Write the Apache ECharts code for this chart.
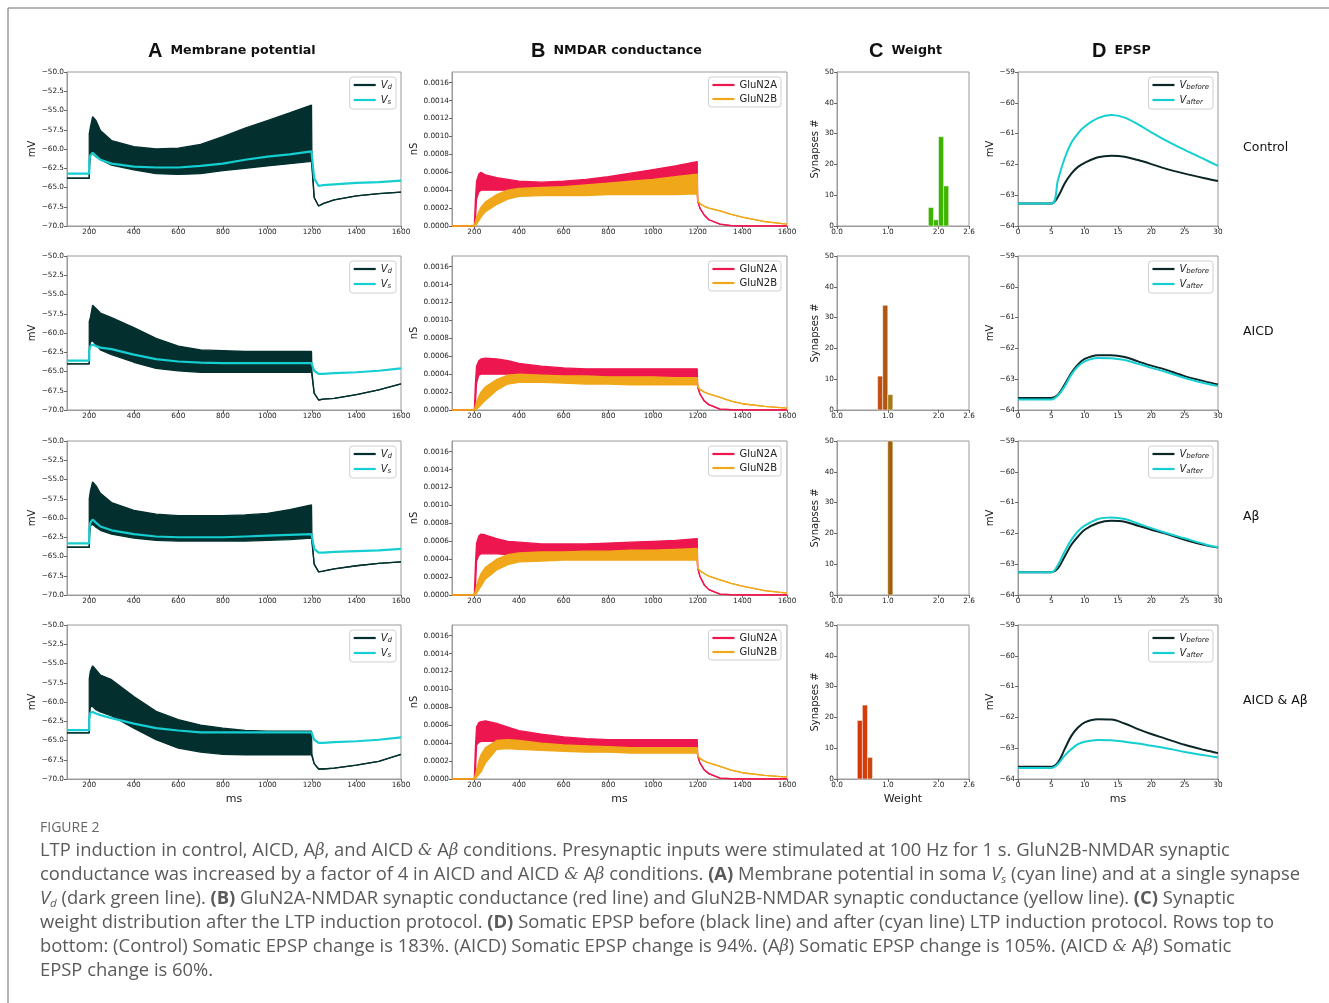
<!DOCTYPE html>
<html>
<head>
<meta charset="UTF-8">
<title>Figure 2</title>
<script src="https://cdn.jsdelivr.net/npm/echarts@6/dist/echarts.min.js"></script>
<style>
  html, body { margin: 0; background: #fff; }
  #main { width: 1329px; height: 1003px; }
</style>
</head>
<body>
<div id="main"></div>
<script>
// ---------- data ----------
var rowNames = ['Control', 'AICD', 'A\u03b2', 'AICD & A\u03b2'];

// A: membrane potential (ms, mV). Vd oscillates at 100 Hz -> stored as upper / lower envelope
var tA = [100, 200, 200, 205, 215, 230, 250, 300, 400, 500, 600, 700, 800, 900, 1000, 1100, 1198, 1200, 1210, 1230, 1250, 1300, 1400, 1500, 1600];
var vdUpper = [
  [-63.8, -63.8, -58.0, -57.2, -55.8, -56.3, -57.6, -58.9, -59.7, -60.0, -59.9, -59.4, -58.4, -57.3, -56.3, -55.3, -54.3, -61.6, -66.3, -67.4, -67.1, -66.6, -66.1, -65.8, -65.6],
  [-64.0, -64.0, -58.5, -58.0, -56.4, -56.8, -57.4, -58.0, -59.3, -60.7, -61.7, -62.2, -62.3, -62.4, -62.4, -62.4, -62.4, -65.0, -67.8, -68.7, -68.6, -68.5, -68.0, -67.4, -66.6],
  [-63.8, -63.8, -57.5, -56.5, -55.3, -55.8, -56.8, -58.0, -59.0, -59.5, -59.7, -59.7, -59.7, -59.6, -59.4, -58.9, -58.3, -62.6, -66.0, -67.0, -66.9, -66.6, -66.2, -65.9, -65.7],
  [-64.0, -64.0, -57.0, -56.0, -55.3, -55.8, -56.5, -57.1, -59.3, -61.2, -62.3, -63.0, -63.4, -63.7, -63.8, -63.8, -63.8, -66.8, -68.0, -68.7, -68.7, -68.6, -68.2, -67.7, -66.8]
];
var vdLower = [
  [-63.8, -63.8, -63.0, -60.8, -60.6, -61.0, -61.4, -62.1, -62.7, -63.2, -63.3, -63.2, -62.8, -62.5, -62.2, -61.9, -61.6, -61.6, -66.3, -67.4, -67.1, -66.6, -66.1, -65.8, -65.6],
  [-64.0, -64.0, -62.5, -61.2, -61.0, -61.5, -62.2, -62.8, -63.8, -64.6, -64.9, -65.1, -65.1, -65.1, -65.1, -65.1, -65.1, -65.0, -67.8, -68.7, -68.6, -68.5, -68.0, -67.4, -66.6],
  [-63.8, -63.8, -63.0, -61.0, -60.8, -61.2, -61.6, -62.1, -62.6, -62.9, -63.0, -63.0, -63.0, -63.0, -62.9, -62.8, -62.6, -62.6, -66.0, -67.0, -66.9, -66.6, -66.2, -65.9, -65.7],
  [-64.0, -64.0, -62.5, -60.6, -60.6, -61.0, -61.3, -61.8, -63.4, -64.9, -66.0, -66.5, -66.8, -66.85, -66.85, -66.85, -66.85, -66.8, -68.0, -68.7, -68.7, -68.6, -68.2, -67.7, -66.8]
];
var vSoma = [
  [-63.2, -63.2, -61.5, -60.8, -60.5, -60.9, -61.4, -61.9, -62.3, -62.4, -62.4, -62.2, -61.9, -61.4, -61.0, -60.7, -60.3, -60.4, -63.8, -64.8, -64.7, -64.6, -64.4, -64.3, -64.1],
  [-63.6, -63.6, -62.2, -61.7, -61.5, -61.7, -61.9, -62.1, -62.8, -63.4, -63.7, -63.85, -63.9, -63.9, -63.9, -63.9, -63.9, -64.0, -64.9, -65.3, -65.3, -65.2, -65.1, -64.9, -64.6],
  [-63.3, -63.3, -61.5, -60.6, -60.2, -60.6, -61.1, -61.6, -62.1, -62.4, -62.5, -62.5, -62.5, -62.4, -62.3, -62.2, -62.1, -62.2, -64.0, -64.5, -64.5, -64.4, -64.3, -64.2, -64.0],
  [-63.65, -63.65, -62.0, -61.4, -61.3, -61.5, -61.7, -62.1, -62.8, -63.4, -63.7, -63.95, -63.95, -63.95, -63.95, -63.95, -63.95, -64.0, -64.9, -65.3, -65.3, -65.2, -65.1, -64.9, -64.6]
];

// B: NMDAR conductance (ms, nS), upper / lower envelopes
var tB = [100, 200, 205, 210, 220, 230, 250, 300, 350, 400, 500, 600, 700, 800, 900, 1000, 1100, 1198, 1200, 1210, 1230, 1250, 1300, 1350, 1400, 1500, 1600];
var n2aUpper = [
  [0, 0, 0.00030, 0.00050, 0.00058, 0.00060, 0.00057, 0.00054, 0.00052, 0.00050, 0.00049, 0.00050, 0.00052, 0.00055, 0.00059, 0.00063, 0.00067, 0.00072, 0.00028, 0.00020, 0.00012, 0.00007, 0.00002, 0.000005, 0, 0, 0],
  [0, 0, 0.00030, 0.00049, 0.00055, 0.00057, 0.00058, 0.00057, 0.00055, 0.00052, 0.00049, 0.00047, 0.00046, 0.00046, 0.00046, 0.00046, 0.00046, 0.00046, 0.00026, 0.00018, 0.00010, 0.00006, 0.00001, 0.000003, 0, 0, 0],
  [0, 0, 0.00035, 0.00058, 0.00066, 0.00068, 0.00067, 0.00063, 0.00060, 0.00059, 0.00057, 0.00057, 0.00057, 0.00058, 0.00059, 0.00060, 0.00061, 0.00063, 0.00030, 0.00021, 0.00011, 0.00006, 0.00001, 0.000003, 0, 0, 0],
  [0, 0, 0.00036, 0.00058, 0.00063, 0.00064, 0.00065, 0.00062, 0.00058, 0.00054, 0.00050, 0.00047, 0.00045, 0.00044, 0.00044, 0.00044, 0.00044, 0.00044, 0.00026, 0.00018, 0.00010, 0.00006, 0.00001, 0.000003, 0, 0, 0]
];
var n2aLower = [
  [0, 0, 0.00008, 0.00030, 0.00038, 0.00040, 0.00040, 0.00040, 0.00040, 0.00040, 0.00040, 0.00040, 0.00040, 0.00040, 0.00040, 0.00040, 0.00040, 0.00040, 0.00028, 0.00020, 0.00012, 0.00007, 0.00002, 0.000005, 0, 0, 0],
  [0, 0, 0.00008, 0.00030, 0.00039, 0.00040, 0.00040, 0.00040, 0.00040, 0.00038, 0.00036, 0.00035, 0.00034, 0.00033, 0.00033, 0.00033, 0.00033, 0.00033, 0.00026, 0.00018, 0.00010, 0.00006, 0.00001, 0.000003, 0, 0, 0],
  [0, 0, 0.00008, 0.00038, 0.00044, 0.00046, 0.00046, 0.00046, 0.00045, 0.00044, 0.00043, 0.00042, 0.00042, 0.00042, 0.00042, 0.00042, 0.00042, 0.00042, 0.00030, 0.00021, 0.00011, 0.00006, 0.00001, 0.000003, 0, 0, 0],
  [0, 0, 0.00008, 0.00038, 0.00041, 0.00042, 0.00042, 0.00042, 0.00040, 0.00038, 0.00036, 0.00034, 0.00033, 0.00032, 0.00032, 0.00032, 0.00032, 0.00032, 0.00026, 0.00018, 0.00010, 0.00006, 0.00001, 0.000003, 0, 0, 0]
];
var n2bUpper = [
  [0, 0, 0.00005, 0.00010, 0.00016, 0.00021, 0.00027, 0.00035, 0.00040, 0.00042, 0.00043, 0.00044, 0.00046, 0.00048, 0.00050, 0.00052, 0.00055, 0.00058, 0.00028, 0.00025, 0.00022, 0.00020, 0.00017, 0.00013, 0.00010, 0.00005, 0.00002],
  [0, 0, 0.00005, 0.00009, 0.00015, 0.00020, 0.00026, 0.00034, 0.00039, 0.00040, 0.00039, 0.00038, 0.00038, 0.00037, 0.00037, 0.00037, 0.00036, 0.00036, 0.00026, 0.00023, 0.00020, 0.00018, 0.00014, 0.00010, 0.00007, 0.00004, 0.00002],
  [0, 0, 0.00005, 0.00010, 0.00018, 0.00024, 0.00031, 0.00040, 0.00045, 0.00047, 0.00048, 0.00048, 0.00049, 0.00049, 0.00050, 0.00050, 0.00051, 0.00052, 0.00030, 0.00027, 0.00024, 0.00021, 0.00017, 0.00013, 0.00010, 0.00005, 0.00002],
  [0, 0, 0.00005, 0.00010, 0.00020, 0.00027, 0.00035, 0.00043, 0.00044, 0.00043, 0.00040, 0.00038, 0.00037, 0.00036, 0.00035, 0.00035, 0.00035, 0.00035, 0.00026, 0.00023, 0.00020, 0.00018, 0.00014, 0.00010, 0.00007, 0.00004, 0.00002]
];
var n2bLower = [
  [0, 0, 0, 0.00002, 0.00006, 0.00010, 0.00016, 0.00024, 0.00030, 0.00033, 0.00034, 0.00034, 0.00034, 0.00035, 0.00035, 0.00035, 0.00035, 0.00036, 0.00028, 0.00025, 0.00022, 0.00020, 0.00017, 0.00013, 0.00010, 0.00005, 0.00002],
  [0, 0, 0, 0.00001, 0.00003, 0.00006, 0.00011, 0.00022, 0.00029, 0.00031, 0.00031, 0.00030, 0.00029, 0.00029, 0.00028, 0.00028, 0.00028, 0.00028, 0.00026, 0.00023, 0.00020, 0.00018, 0.00014, 0.00010, 0.00007, 0.00004, 0.00002],
  [0, 0, 0, 0.00002, 0.00006, 0.00010, 0.00018, 0.00028, 0.00034, 0.00037, 0.00038, 0.00039, 0.00039, 0.00039, 0.00039, 0.00039, 0.00039, 0.00039, 0.00030, 0.00027, 0.00024, 0.00021, 0.00017, 0.00013, 0.00010, 0.00005, 0.00002],
  [0, 0, 0, 0.00002, 0.00005, 0.00008, 0.00018, 0.00033, 0.00034, 0.00033, 0.00032, 0.00031, 0.00030, 0.00030, 0.00029, 0.00029, 0.00029, 0.00029, 0.00026, 0.00023, 0.00020, 0.00018, 0.00014, 0.00010, 0.00007, 0.00004, 0.00002]
];

// C: weight histograms (bin edges, synapse counts)
var binEdges = [
  [1.8, 1.9, 2.0, 2.1, 2.2],
  [0.8, 0.9, 1.0, 1.1],
  [1.0, 1.1],
  [0.4, 0.5, 0.6, 0.7]
];
var binCounts = [
  [6, 2, 29, 13],
  [11, 34, 5],
  [50],
  [19, 24, 7]
];

// D: EPSP (ms, mV)
var tD = [0, 5, 6, 7, 8, 9, 10, 12, 14, 16, 18, 20, 22, 25, 28, 30];
var vBefore = [
  [-63.27, -63.27, -63.05, -62.62, -62.30, -62.08, -61.95, -61.77, -61.72, -61.75, -61.86, -61.99, -62.13, -62.30, -62.45, -62.54],
  [-63.61, -63.61, -63.50, -63.17, -62.80, -62.52, -62.34, -62.22, -62.22, -62.28, -62.42, -62.56, -62.68, -62.90, -63.07, -63.17],
  [-63.26, -63.26, -63.13, -62.75, -62.37, -62.10, -61.88, -61.66, -61.59, -61.62, -61.75, -61.88, -62.00, -62.21, -62.38, -62.46],
  [-63.60, -63.60, -63.46, -63.03, -62.60, -62.33, -62.16, -62.06, -62.07, -62.20, -62.38, -62.54, -62.68, -62.89, -63.06, -63.16]
];
var vAfter = [
  [-63.27, -63.27, -62.50, -61.80, -61.30, -60.99, -60.77, -60.50, -60.40, -60.48, -60.70, -60.96, -61.20, -61.53, -61.84, -62.05],
  [-63.66, -63.66, -63.53, -63.23, -62.85, -62.58, -62.42, -62.31, -62.32, -62.38, -62.50, -62.63, -62.75, -62.96, -63.13, -63.22],
  [-63.26, -63.26, -63.02, -62.59, -62.21, -61.93, -61.75, -61.53, -61.48, -61.53, -61.68, -61.83, -61.97, -62.16, -62.35, -62.45],
  [-63.64, -63.64, -63.51, -63.24, -63.03, -62.87, -62.79, -62.73, -62.74, -62.79, -62.85, -62.92, -62.99, -63.12, -63.23, -63.30]
];

// tick labels
var msTicks = [200, 400, 600, 800, 1000, 1200, 1400, 1600];
var nsTicks = [0, 0.0002, 0.0004, 0.0006, 0.0008, 0.0010, 0.0012, 0.0014, 0.0016];
var weightTicks = [0, 1.0, 2.0, 2.6];

// ---------- styles / layout ----------
var C_VD = '#03302e', C_VS = '#14ced2', C_2A = '#ee164f', C_2B = '#f0a719', C_BEF = '#0b2626', C_AFT = '#14ced2';
var binColors = [
  ['#3db500', '#3db500', '#3db500', '#3db500'],
  ['#c24e12', '#b0560e', '#a47a1a'],
  ['#a3600a'],
  ['#d6360a', '#d43c0a', '#c84a12']
];
var colLeft = [67, 452, 837, 1018];
var colWidth = [334, 335, 132, 200];
var rowTop = [72, 256, 441, 625];
var plotH = 154;
var FONT = 'DejaVu Sans';

function minus(d) {
  return function (v) { return (v < 0 ? '\u2212' : '') + Math.abs(v).toFixed(d); };
}

function axisBase(gi) {
  return {
    type: 'value', gridIndex: gi,
    axisLine: { show: true, onZero: false, lineStyle: { color: '#9a9a9a', width: 1 } },
    axisTick: { show: true, length: 3, lineStyle: { color: '#444', width: 0.8 } },
    axisLabel: { fontSize: 7.3, fontFamily: FONT, color: '#222', margin: 3, formatter: function (v) { return String(v); } },
    splitLine: { show: false },
    nameLocation: 'middle',
    nameTextStyle: { fontFamily: FONT, fontSize: 10, color: '#222' }
  };
}

function band(gi, t, up, lo, color, z) {
  return {
    type: 'custom', xAxisIndex: gi, yAxisIndex: gi, z: z, silent: true,
    data: t.map(function (x, i) { return [x, up[i], lo[i]]; }),
    encode: { x: 0, y: [1, 2] },
    renderItem: function (params, api) {
      if (params.dataIndex !== 0) return;
      var pts = [];
      for (var i = 0; i < t.length; i++) pts.push(api.coord([t[i], up[i]]));
      for (var j = t.length - 1; j >= 0; j--) pts.push(api.coord([t[j], lo[j]]));
      return { type: 'polygon', shape: { points: pts }, style: { fill: color } };
    }
  };
}

function line(gi, name, t, v, color, w, z, smooth) {
  return {
    type: 'line', name: name, xAxisIndex: gi, yAxisIndex: gi, z: z,
    data: t.map(function (x, i) { return [x, v[i]]; }),
    showSymbol: false, smooth: smooth || false, silent: true,
    itemStyle: { color: color },
    lineStyle: { color: color, width: w }
  };
}

function hist(gi, edges, counts, colors) {
  return {
    type: 'custom', xAxisIndex: gi, yAxisIndex: gi, silent: true,
    data: counts.map(function (c, i) { return [edges[i], edges[i + 1], c]; }),
    encode: { x: [0, 1], y: 2 },
    renderItem: function (params, api) {
      var p0 = api.coord([api.value(0), 0]);
      var p1 = api.coord([api.value(1), api.value(2)]);
      return {
        type: 'rect',
        shape: { x: p0[0], y: p1[1], width: p1[0] - p0[0], height: p0[1] - p1[1] },
        style: { fill: colors[params.dataIndex], stroke: 'rgba(255,255,255,0.7)', lineWidth: 0.7 }
      };
    }
  };
}

var legendRich = {
  i: { fontFamily: FONT, fontStyle: 'italic', fontSize: 10, lineHeight: 12 },
  s: { fontFamily: FONT, fontStyle: 'italic', fontSize: 7, lineHeight: 8, verticalAlign: 'bottom' }
};
function legendFmt(name) {
  if (name === 'Vd') return '{i|V}{s|d}';
  if (name === 'Vs') return '{i|V}{s|s}';
  if (name === 'Vbefore') return '{i|V}{s|before}';
  if (name === 'Vafter') return '{i|V}{s|after}';
  return name;
}
function legend(names, right, top) {
  return {
    data: names, right: right, top: top, orient: 'vertical', selectedMode: false,
    icon: 'rect', itemWidth: 22, itemHeight: 2.2, itemGap: 4,
    padding: [3, 4, 3, 4], borderColor: '#d0d0d0', borderWidth: 1, borderRadius: 3,
    backgroundColor: 'rgba(255,255,255,0.85)',
    textStyle: { fontFamily: FONT, fontSize: 10, color: '#222', rich: legendRich },
    formatter: legendFmt
  };
}

var grids = [], xAxes = [], yAxes = [], series = [], legends = [], graphics = [];

for (var r = 0; r < 4; r++) {
  for (var c = 0; c < 4; c++) {
    var gi = r * 4 + c;
    grids.push({ left: colLeft[c], top: rowTop[r], width: colWidth[c], height: plotH, show: true, borderColor: '#9a9a9a', borderWidth: 1 });
    var xa = axisBase(gi), ya = axisBase(gi);
    if (c === 0 || c === 1) {
      xa.min = 100; xa.max = 1600;
      xa.axisTick.customValues = msTicks;
      xa.axisLabel.customValues = msTicks;
      if (r === 3) { xa.name = 'ms'; xa.nameGap = 15; xa.nameTextStyle.fontSize = 11; }
    }
    if (c === 0) {
      ya.min = -70; ya.max = -50; ya.interval = 2.5;
      ya.axisLabel.formatter = minus(1);
      ya.name = 'mV'; ya.nameGap = 29;
    }
    if (c === 1) {
      ya.min = 0; ya.max = 0.00172;
      ya.axisTick.customValues = nsTicks;
      ya.axisLabel.customValues = nsTicks;
      ya.axisLabel.formatter = function (v) { return v.toFixed(4); };
      ya.name = 'nS'; ya.nameGap = 29;
    }
    if (c === 2) {
      xa.min = 0; xa.max = 2.6;
      xa.axisTick.customValues = weightTicks;
      xa.axisLabel.customValues = weightTicks;
      xa.axisLabel.formatter = function (v) { return v.toFixed(1); };
      ya.min = 0; ya.max = 50; ya.interval = 10;
      ya.name = 'Synapses #'; ya.nameGap = 13;
      if (r === 3) { xa.name = 'Weight'; xa.nameGap = 15; xa.nameTextStyle.fontSize = 11; }
    }
    if (c === 3) {
      xa.min = 0; xa.max = 30; xa.interval = 5;
      ya.min = -64; ya.max = -59; ya.interval = 1;
      ya.axisLabel.formatter = minus(0);
      ya.name = 'mV'; ya.nameGap = 17;
      if (r === 3) { xa.name = 'ms'; xa.nameGap = 15; xa.nameTextStyle.fontSize = 11; }
    }
    xAxes.push(xa); yAxes.push(ya);
  }

  var g = r * 4;
  // A
  series.push(band(g, tA, vdUpper[r], vdLower[r], C_VD, 2));
  series.push(line(g, 'Vd', tA, vdUpper[r], C_VD, 1.3, 3));
  series.push(line(g, 'Vd', tA, vdLower[r], C_VD, 1.3, 3));
  series.push(line(g, 'Vs', tA, vSoma[r], C_VS, 2.2, 4));
  // B
  series.push(band(g + 1, tB, n2aUpper[r], n2aLower[r], C_2A, 2));
  series.push(line(g + 1, 'GluN2A', tB, n2aUpper[r], C_2A, 1.3, 3));
  series.push(line(g + 1, 'GluN2A', tB, n2aLower[r], C_2A, 1.3, 3));
  series.push(band(g + 1, tB, n2bUpper[r], n2bLower[r], C_2B, 4));
  series.push(line(g + 1, 'GluN2B', tB, n2bUpper[r], C_2B, 1.3, 5));
  series.push(line(g + 1, 'GluN2B', tB, n2bLower[r], C_2B, 1.3, 5));
  // C
  series.push(hist(g + 2, binEdges[r], binCounts[r], binColors[r]));
  // D
  series.push(line(g + 3, 'Vbefore', tD, vBefore[r], C_BEF, 2, 3, 0.35));
  series.push(line(g + 3, 'Vafter', tD, vAfter[r], C_AFT, 2, 4, 0.35));

  legends.push(legend(['Vd', 'Vs'], 1329 - 396, rowTop[r] + 5));
  legends.push(legend(['GluN2A', 'GluN2B'], 1329 - 781, rowTop[r] + 5));
  legends.push(legend(['Vbefore', 'Vafter'], 1329 - 1213, rowTop[r] + 5));

  graphics.push({
    type: 'text', x: 1243, y: rowTop[r] + 76,
    style: { text: rowNames[r], fontFamily: FONT, fontSize: 12.5, fill: '#111', verticalAlign: 'middle' }
  });
}

// panel headers
var headers = [['A', 'Membrane potential', 148], ['B', 'NMDAR conductance', 531], ['C', 'Weight', 869], ['D', 'EPSP', 1092]];
headers.forEach(function (h) {
  graphics.push({
    type: 'text', x: h[2], y: 51,
    style: {
      text: '{L|' + h[0] + '}{t|' + h[1] + '}', verticalAlign: 'middle', fill: '#111',
      rich: {
        L: { fontFamily: 'Liberation Sans', fontWeight: 'bold', fontSize: 20, fill: '#111', padding: [0, 8, 0, 0] },
        t: { fontFamily: FONT, fontWeight: 'bold', fontSize: 12.7, fill: '#111' }
      }
    }
  });
});

// frame lines
graphics.push({ type: 'line', shape: { x1: 8, y1: 8, x2: 8, y2: 1003 }, style: { stroke: '#9c9c9c', lineWidth: 1.5 } });
graphics.push({ type: 'line', shape: { x1: 8, y1: 8, x2: 1329, y2: 8 }, style: { stroke: '#9c9c9c', lineWidth: 1.5 } });

// caption
var capFont = 'Open Sans';
var capSize = 18.4;
var capColor = '#5a5a5a';
var capRich = {
  b: { fontFamily: capFont, fontWeight: 'bold', fontSize: capSize, fill: capColor },
  m: { fontFamily: 'DejaVu Serif', fontStyle: 'italic', fontSize: 16.2, fill: capColor },
  v: { fontFamily: capFont, fontStyle: 'italic', fontSize: capSize, fill: capColor, lineHeight: 21 },
  u: { fontFamily: capFont, fontStyle: 'italic', fontSize: 11.5, fill: capColor, lineHeight: 12, verticalAlign: 'bottom' }
};
var captionLines = [
  'LTP induction in control, AICD, A{m|\u03b2}, and AICD {m|&} A{m|\u03b2} conditions. Presynaptic inputs were stimulated at 100 Hz for 1 s. GluN2B-NMDAR synaptic',
  'conductance was increased by a factor of 4 in AICD and AICD {m|&} A{m|\u03b2} conditions. {b|(A)} Membrane potential in soma {v|V}{u|s} (cyan line) and at a single synapse',
  '{v|V}{u|d} (dark green line). {b|(B)} GluN2A-NMDAR synaptic conductance (red line) and GluN2B-NMDAR synaptic conductance (yellow line). {b|(C)} Synaptic',
  'weight distribution after the LTP induction protocol. {b|(D)} Somatic EPSP before (black line) and after (cyan line) LTP induction protocol. Rows top to',
  'bottom: (Control) Somatic EPSP change is 183%. (AICD) Somatic EPSP change is 94%. (A{m|\u03b2}) Somatic EPSP change is 105%. (AICD {m|&} A{m|\u03b2}) Somatic',
  'EPSP change is 60%.'
];
graphics.push({
  type: 'text', x: 40, y: 828,
  style: { text: 'FIGURE 2', fontFamily: capFont, fontSize: 14, fill: '#666', verticalAlign: 'middle' }
});
captionLines.forEach(function (txt, i) {
  graphics.push({
    type: 'text', x: 40, y: 851 + i * 24,
    style: { text: txt, fontFamily: capFont, fontSize: capSize, fill: capColor, verticalAlign: 'middle', rich: capRich }
  });
});

var chart = echarts.init(document.getElementById('main'), null, { renderer: 'canvas' });
chart.setOption({
  animation: false,
  backgroundColor: '#fff',
  grid: grids,
  xAxis: xAxes,
  yAxis: yAxes,
  legend: legends,
  series: series,
  graphic: graphics
});
</script>
</body>
</html>
